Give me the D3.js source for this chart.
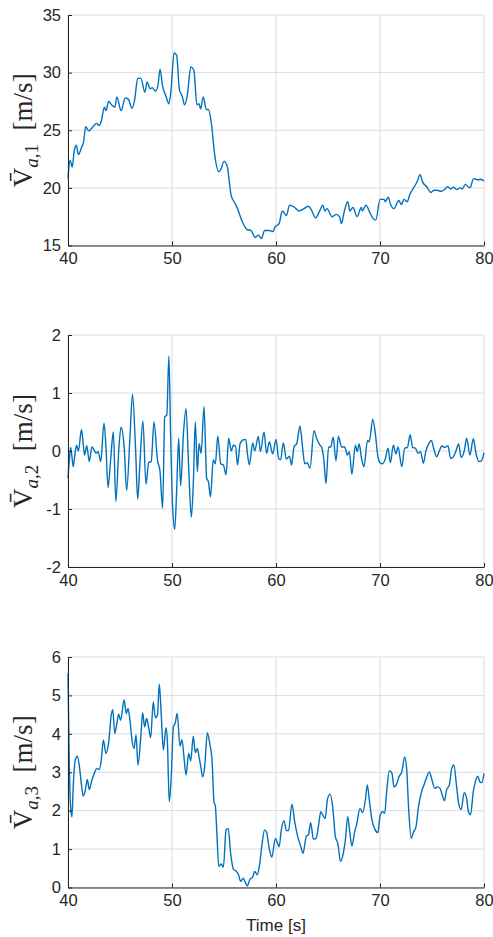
<!DOCTYPE html>
<html>
<head>
<meta charset="utf-8">
<script src="https://cdn.jsdelivr.net/npm/d3@7"></script>
<style>
  html, body { margin: 0; padding: 0; background: #fff; }
  svg { display: block; }
</style>
</head>
<body>
<svg id="chart" width="493" height="937"></svg>
<script>
// ---- Data ----
const xTicks = [40, 50, 60, 70, 80];
const yTicks1 = [15, 20, 25, 30, 35];
const yTicks2 = [-2, -1, 0, 1, 2];
const yTicks3 = [0, 1, 2, 3, 4, 5, 6];
const yLabelSub = ["a,1", "a,2", "a,3"];

const time1 = [40.0,40.2,40.4,40.6,40.8,41.0,41.3,41.5,41.7,42.0,42.4,42.75,43.0,43.2,43.5,43.65,43.9,44.2,44.5,44.7,45.1,45.5,45.8,46.15,46.4,46.7,47.0,47.4,47.6,47.9,48.1,48.4,48.65,48.85,49.1,49.4,49.7,49.9,50.2,50.45,50.7,51.0,51.2,51.5,51.8,52.1,52.4,52.6,52.75,53.0,53.3,53.5,53.8,54.1,54.5,54.7,55.0,55.3,55.7,56.1,56.3,56.7,
  57.2,57.6,58.0,58.3,58.6,58.9,59.4,59.7,59.9,60.3,60.6,61.0,61.3,61.8,62.2,62.7,63.1,63.4,63.8,64.2,64.5,64.7,64.9,65.4,65.8,66.1,66.3,66.5,66.9,67.1,67.4,67.8,68.2,68.3,68.65,69.0,69.3,69.6,70.0,70.4,70.5,70.8,71.0,71.35,71.8,72.05,72.3,72.6,72.9,73.3,73.6,73.85,74.1,74.5,74.9,75.2,75.5,75.9,76.25,76.5,76.8,77.05,77.4,77.7,77.9,78.2,78.65,79.0,79.45,79.7,80.0];
const vel1 = [20.8,22.4,21.8,23.2,23.7,22.9,23.5,24.0,25.3,24.95,25.3,25.6,25.4,25.8,27.0,26.7,27.5,27.2,27.0,27.9,26.7,27.8,27.7,26.9,27.6,29.5,29.5,28.3,29.2,28.6,28.7,28.4,28.9,30.3,28.8,28.0,27.3,28.4,31.7,31.5,28.6,27.9,27.2,28.2,30.5,30.2,27.2,27.3,26.85,27.9,26.8,26.8,25.5,22.9,21.4,21.6,22.3,21.9,19.3,18.6,18.2,17.2,
  16.4,16.3,15.7,15.9,15.6,16.3,16.3,16.2,16.6,16.9,18.0,17.6,18.5,18.3,18.0,18.2,18.4,18.1,17.4,18.0,18.5,18.0,18.2,17.5,17.7,17.5,16.9,17.7,18.8,18.0,18.3,17.5,18.3,18.0,18.5,17.9,17.4,17.2,19.0,19.0,18.8,19.2,18.6,18.2,18.9,18.55,19.0,18.8,19.5,20.1,20.6,21.15,20.5,20.1,19.6,19.8,19.8,19.7,19.9,20.1,19.9,20.05,19.85,20.0,19.9,20.3,20.0,20.8,20.7,20.75,20.6];

const time2 = [40.0,40.13,40.26,40.38,40.5,40.7,40.83,41.0,41.3,41.5,41.6,41.8,42.05,42.3,42.5,42.7,42.9,43.15,43.46,43.65,43.85,44.1,44.36,44.6,44.9,45.1,45.4,45.64,45.96,46.2,46.5,46.7,46.9,47.2,47.5,47.76,48.0,48.27,48.6,48.85,49.1,49.3,49.5,49.7,49.87,50.06,50.26,50.45,50.64,50.83,51.1,51.35,51.6,51.86,52.05,52.24,52.44,52.6,52.8,53.08,53.33,53.5,53.7,53.97,54.17,54.4,54.68,54.94,55.2,55.45,55.7,55.9,56.1,56.3,
  56.54,56.8,57.1,57.25,57.44,57.76,57.95,58.3,58.5,58.85,59.1,59.36,59.68,60.0,60.26,60.45,60.7,61.0,61.3,61.5,61.73,62.0,62.3,62.56,62.76,63.0,63.27,63.65,63.9,64.23,64.4,64.6,64.8,65.06,65.26,65.5,65.77,66.0,66.3,66.6,66.86,67.05,67.3,67.63,67.8,68.0,68.2,68.46,68.8,68.97,69.3,69.55,69.8,70.0,70.26,70.5,70.77,71.0,71.28,71.54,71.73,72.1,72.37,72.63,72.9,73.14,73.4,73.65,73.9,74.17,74.4,74.7,74.94,75.2,75.45,75.7,75.96,76.15,76.35,76.54,76.8,77.05,77.3,77.56,77.8,78.1,78.33,78.65,78.97,79.23,79.5,79.74,80.0];
const vel2 = [-0.47,-0.15,0.06,-0.1,-0.27,-0.01,0.1,0.0,0.37,0.05,-0.07,0.09,-0.18,0.07,0.02,-0.04,-0.01,-0.18,0.48,0.07,-0.63,-0.15,0.33,-0.87,0.07,0.41,0.07,-0.68,0.25,0.98,0.02,-0.83,-0.27,0.52,-0.57,-0.2,-0.18,0.5,-0.15,-0.36,-0.99,0.59,0.62,1.64,0.25,-0.96,-1.35,-0.67,0.22,-0.6,0.3,0.73,-0.27,-1.14,-0.56,0.5,-0.36,0.13,-0.04,0.77,-0.47,-0.53,-0.79,-0.15,-0.22,0.26,-0.22,-0.24,-0.41,0.22,0.0,0.1,0.09,-0.24,
  0.12,0.19,0.2,-0.04,-0.24,0.14,0.0,0.25,-0.01,0.33,-0.04,0.16,-0.05,0.2,-0.13,-0.15,0.14,-0.14,-0.09,-0.24,0.07,0.13,0.43,0.05,-0.22,-0.2,-0.3,0.35,0.22,0.1,0.06,-0.15,-0.56,0.07,0.07,0.24,-0.17,0.25,0.07,0.07,-0.07,-0.01,-0.4,0.1,-0.01,0.12,-0.1,-0.27,0.18,0.16,0.55,0.3,-0.1,-0.2,-0.22,-0.14,0.05,-0.2,0.1,-0.05,0.07,-0.27,0.05,0.06,0.28,0.06,0.05,-0.04,-0.01,-0.21,-0.01,0.13,0.18,0.02,-0.1,0.0,0.09,0.06,0.07,0.09,-0.13,-0.1,0.0,0.12,-0.11,0.0,0.22,-0.07,0.21,-0.04,-0.18,-0.17,-0.03];

const time3 = [40.0,40.13,40.26,40.38,40.5,40.7,40.9,41.1,41.28,41.47,41.67,41.86,42.05,42.3,42.56,42.76,43.0,43.2,43.4,43.65,43.9,44.17,44.3,44.5,44.7,44.87,45.06,45.4,45.6,45.77,45.96,46.15,46.35,46.54,46.73,47.0,47.18,47.37,47.56,47.76,47.95,48.2,48.4,48.6,48.78,48.97,49.17,49.42,49.55,49.74,49.94,50.13,50.3,50.5,50.77,50.96,51.15,51.35,51.6,51.8,52.05,52.24,52.44,52.6,52.76,52.95,53.14,53.4,53.65,53.85,54.04,54.17,54.3,54.5,54.74,54.94,55.2,55.4,55.64,55.9,56.2,56.4,56.6,56.86,57.05,57.24,
  57.5,57.76,57.95,58.2,58.4,58.65,58.9,59.1,59.36,59.6,59.94,60.2,60.3,60.5,60.77,61.0,61.2,61.54,61.8,62.05,62.37,62.6,62.9,63.14,63.33,63.6,63.85,64.1,64.3,64.55,64.74,64.94,65.2,65.45,65.7,65.96,66.2,66.47,66.67,66.9,67.1,67.3,67.56,67.76,68.08,68.33,68.6,68.78,68.97,69.23,69.5,69.8,70.0,70.26,70.45,70.64,70.9,71.15,71.35,71.6,71.8,72.1,72.37,72.56,72.76,73.0,73.2,73.46,73.7,73.97,74.23,74.5,74.74,75.0,75.26,75.5,75.77,75.96,76.2,76.4,76.67,76.9,77.1,77.37,77.56,77.8,78.1,78.33,78.5,78.7,78.97,79.17,79.4,79.6,79.8,80.0];
const vel3 = [5.57,3.14,2.06,1.84,2.62,3.32,3.42,3.14,2.71,2.38,2.54,2.81,2.55,2.8,2.99,3.1,3.07,3.32,3.84,3.49,3.75,4.51,4.63,4.01,4.27,4.51,4.35,4.89,4.53,4.66,4.35,3.85,3.62,3.97,3.19,3.92,4.55,4.18,4.4,4.16,3.9,4.83,4.42,4.48,5.29,4.48,3.58,4.16,3.84,2.23,2.97,4.18,4.27,4.53,3.68,3.85,3.4,2.93,3.49,3.3,3.94,3.51,3.62,3.4,3.16,2.88,3.14,4.03,3.71,3.32,2.23,2.12,1.5,0.55,0.61,0.53,1.5,1.54,0.89,0.48,0.42,0.33,0.16,0.24,0.13,0.04,
  0.22,0.27,0.42,0.33,0.55,1.11,1.5,1.43,1.0,0.79,1.28,1.11,1.06,1.48,1.74,1.48,1.48,2.17,1.71,1.37,1.08,0.89,1.32,1.39,1.69,1.26,1.28,1.63,1.97,1.86,1.8,2.29,2.43,2.1,1.34,1.13,0.68,0.89,1.24,1.84,1.43,1.08,1.45,1.65,2.06,1.95,2.29,2.67,2.28,1.76,1.52,1.43,1.86,1.97,1.93,2.49,3.04,2.97,2.62,2.69,2.87,3.01,3.4,3.1,2.02,1.28,1.43,1.58,2.1,2.47,2.67,2.88,3.01,2.8,2.58,2.62,2.58,2.43,2.26,2.54,2.67,3.1,3.19,2.62,2.19,2.03,2.47,2.32,1.97,1.89,2.49,2.75,2.9,2.75,2.73,2.97];

// ---- Layout ----
const svg = d3.select("#chart");
const left = 68, right = 484;
const panels = [
  { time: time1, vel: vel1, domain: [15, 35], ticks: yTicks1, top: 15, bottom: 245.5, sub: yLabelSub[0] },
  { time: time2, vel: vel2, domain: [-2, 2], ticks: yTicks2, top: 335, bottom: 567, sub: yLabelSub[1] },
  { time: time3, vel: vel3, domain: [0, 6], ticks: yTicks3, top: 657, bottom: 887.5, sub: yLabelSub[2] }
];
const axisColor = "#262626";
const gridColor = "#dcdcdc";
const lineColor = "#0072BD";
const tickFont = "'Liberation Sans', Arial, sans-serif";
const fmt = d => String(d);

const x = d3.scaleLinear().domain([40, 80]).range([left, right]);

panels.forEach((p, i) => {
  const y = d3.scaleLinear().domain(p.domain).range([p.bottom, p.top]);
  const g = svg.append("g");

  // grid
  g.append("g").selectAll("line").data(xTicks).join("line")
    .attr("x1", d => x(d)).attr("x2", d => x(d))
    .attr("y1", p.top).attr("y2", p.bottom)
    .attr("stroke", gridColor).attr("stroke-width", 1);
  g.append("g").selectAll("line").data(p.ticks).join("line")
    .attr("x1", left).attr("x2", right)
    .attr("y1", d => y(d)).attr("y2", d => y(d))
    .attr("stroke", gridColor).attr("stroke-width", 1);

  // data line
  const line = d3.line()
    .x(d => x(d[0])).y(d => y(d[1]))
    .curve(d3.curveMonotoneX);
  const pts = p.time.map((t, k) => [t, p.vel[k]]);
  g.append("path").datum(pts)
    .attr("d", line)
    .attr("fill", "none")
    .attr("stroke", lineColor)
    .attr("stroke-width", 1.4)
    .attr("stroke-linejoin", "round");

  // axes (ticks inward, MATLAB style)
  const xAxis = d3.axisBottom(x).tickValues(xTicks).tickFormat(fmt).tickSizeInner(-4).tickSizeOuter(0).tickPadding(7);
  const gx = g.append("g").attr("transform", `translate(0,${p.bottom})`).call(xAxis);
  const yAxis = d3.axisLeft(y).tickValues(p.ticks).tickFormat(fmt).tickSizeInner(-4).tickSizeOuter(0).tickPadding(7);
  const gy = g.append("g").attr("transform", `translate(${left},0)`).call(yAxis);
  [gx, gy].forEach(a => {
    a.select(".domain").attr("stroke", axisColor).attr("stroke-width", 1);
    a.selectAll(".tick line").attr("stroke", axisColor).attr("stroke-width", 1);
    a.selectAll(".tick text").attr("fill", axisColor)
      .style("font-family", tickFont).style("font-size", "16.5px");
  });

  // y label (LaTeX-like)
  const cy = (p.top + p.bottom) / 2;
  const lab = g.append("text")
    .attr("transform", `translate(32,${cy}) rotate(-90)`)
    .attr("text-anchor", "middle")
    .attr("fill", axisColor)
    .style("font-family", "'Liberation Serif', 'Times New Roman', serif")
    .style("font-size", "27px");
  lab.append("tspan").text("V\u0304");
  lab.append("tspan").attr("dy", 6).style("font-size", "19px").style("font-style", "italic").text(p.sub.split(",")[0]);
  lab.append("tspan").style("font-size", "19px").text("," + p.sub.split(",")[1]);
  lab.append("tspan").attr("dy", -6).text("\u2002[m/s]");
});

// x label
svg.append("text")
  .attr("x", x(60)).attr("y", 931)
  .attr("text-anchor", "middle")
  .attr("fill", axisColor)
  .style("font-family", tickFont).style("font-size", "17px")
  .text("Time [s]");
</script>
</body>
</html>
